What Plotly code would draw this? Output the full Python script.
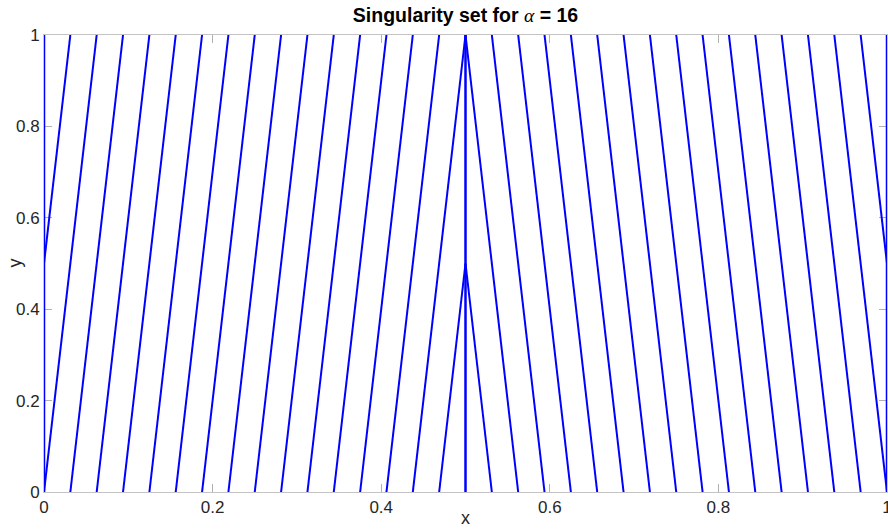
import plotly.graph_objects as go

# Singularity curves (segments): start (x0, y0) -> end (x1, y1)
left_x0 = [0.0, 0.0, 0.03125, 0.0625, 0.09375, 0.125, 0.15625, 0.1875, 0.21875,
           0.25, 0.28125, 0.3125, 0.34375, 0.375, 0.40625, 0.4375, 0.46875]
left_y0 = [0.5, 0.0, 0.0, 0.0, 0.0, 0.0, 0.0, 0.0, 0.0,
           0.0, 0.0, 0.0, 0.0, 0.0, 0.0, 0.0, 0.0]
left_x1 = [0.03125, 0.0625, 0.09375, 0.125, 0.15625, 0.1875, 0.21875, 0.25, 0.28125,
           0.3125, 0.34375, 0.375, 0.40625, 0.4375, 0.46875, 0.5, 0.5]
left_y1 = [1.0, 1.0, 1.0, 1.0, 1.0, 1.0, 1.0, 1.0, 1.0,
           1.0, 1.0, 1.0, 1.0, 1.0, 1.0, 1.0, 0.5]

right_x0 = [1.0, 1.0, 0.96875, 0.9375, 0.90625, 0.875, 0.84375, 0.8125, 0.78125,
            0.75, 0.71875, 0.6875, 0.65625, 0.625, 0.59375, 0.5625, 0.53125]
right_y0 = [0.5, 0.0, 0.0, 0.0, 0.0, 0.0, 0.0, 0.0, 0.0,
            0.0, 0.0, 0.0, 0.0, 0.0, 0.0, 0.0, 0.0]
right_x1 = [0.96875, 0.9375, 0.90625, 0.875, 0.84375, 0.8125, 0.78125, 0.75, 0.71875,
            0.6875, 0.65625, 0.625, 0.59375, 0.5625, 0.53125, 0.5, 0.5]
right_y1 = [1.0, 1.0, 1.0, 1.0, 1.0, 1.0, 1.0, 1.0, 1.0,
            1.0, 1.0, 1.0, 1.0, 1.0, 1.0, 1.0, 0.5]

vertical_x = [0.0, 0.5, 1.0]
vertical_y0 = [0.0, 0.0, 0.0]
vertical_y1 = [1.0, 1.0, 1.0]

tick_vals = [0, 0.2, 0.4, 0.6, 0.8, 1]
tick_text = ["0", "0.2", "0.4", "0.6", "0.8", "1"]

BLUE = "#0000ff"
SANS = "Liberation Sans, Arial, sans-serif"


def segs(x0, y0, x1, y1):
    xs, ys = [], []
    for a, b, c, d in zip(x0, y0, x1, y1):
        xs += [a, c, None]
        ys += [b, d, None]
    return xs, ys


fig = go.Figure()
for X0, Y0, X1, Y1 in [(left_x0, left_y0, left_x1, left_y1),
                       (right_x0, right_y0, right_x1, right_y1)]:
    xs, ys = segs(X0, Y0, X1, Y1)
    fig.add_trace(go.Scatter(x=xs, y=ys, mode="lines",
                             line=dict(color=BLUE, width=2), hoverinfo="skip"))

xs, ys = segs(vertical_x, vertical_y0, vertical_x, vertical_y1)
fig.add_trace(go.Scatter(x=xs, y=ys, mode="lines",
                         line=dict(color=BLUE, width=2.5), hoverinfo="skip"))

axis_common = dict(
    range=[0, 1], tickvals=tick_vals, ticktext=tick_text,
    ticks="inside", ticklen=8, tickwidth=1, tickcolor="#b0b0b0",
    showline=True, linecolor="#c4c4c4", linewidth=1, mirror="ticks",
    showgrid=False, zeroline=False, layer="below traces",
    tickfont=dict(family=SANS, size=17, color="#262626"),
    fixedrange=True, automargin=False, ticklabeloverflow="allow",
)

fig.update_layout(
    width=888, height=530,
    margin=dict(l=44, r=1, t=35, b=38),
    paper_bgcolor="white", plot_bgcolor="white",
    showlegend=False,
    xaxis=axis_common,
    yaxis=axis_common,
    title=dict(
        text="<b>Singularity set for </b><span style='font-family:Liberation Serif, Times New Roman, serif'><i>α</i></span><b> = 16</b>",
        x=(44 + 421.5) / 888, xanchor="center",
        y=1 - 15 / 530, yanchor="middle",
        font=dict(family=SANS, size=19.5, color="black"),
    ),
    annotations=[
        dict(text="x", xref="paper", yref="paper", x=0.5, y=0, yshift=-26,
             xanchor="center", yanchor="middle", showarrow=False,
             font=dict(family=SANS, size=18, color="#262626")),
        dict(text="y", xref="paper", yref="paper", x=0, y=0.5, xshift=-30,
             xanchor="center", yanchor="middle", textangle=-90, showarrow=False,
             font=dict(family=SANS, size=18, color="#262626")),
    ],
)

fig.write_html("out.html", config={"displayModeBar": False},
               post_script="document.body.style.margin='0';document.body.style.overflow='hidden';")
